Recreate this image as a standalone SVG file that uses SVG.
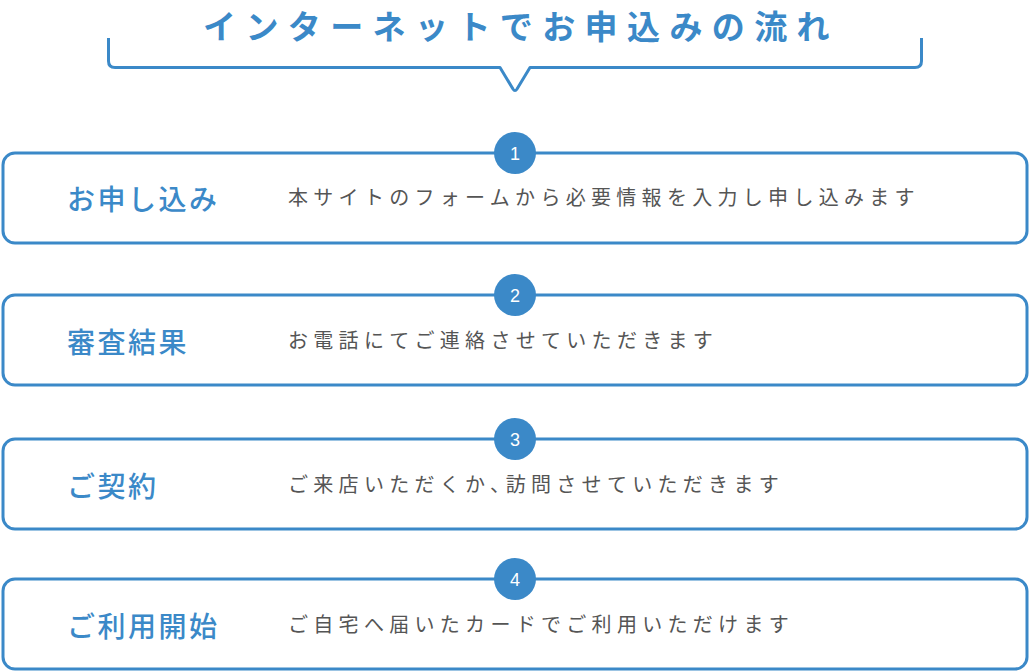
<svg xmlns="http://www.w3.org/2000/svg" width="1030" height="672" viewBox="0 0 1030 672">
<style>
.box{fill:#fff;stroke:#3b89c8;stroke-width:3}
.num{fill:#3b89c8}
.numt{fill:#fff;font-family:"Liberation Sans",Arial,sans-serif;font-size:18px;text-anchor:middle}
.lbl{fill:#3b89c8;font-family:"Noto Sans CJK JP",sans-serif;font-size:28px;font-weight:500;letter-spacing:2.5px}
.dsc{fill:#555;font-family:"Noto Sans CJK JP",sans-serif;font-size:20px;letter-spacing:5.3px}
.ttl{fill:#3b89c8;font-family:"Noto Sans CJK JP",sans-serif;font-size:33px;font-weight:700;letter-spacing:9.4px;text-anchor:middle}
</style>
<g id="title">
<text class="ttl" x="521" y="38.5">インターネットでお申込みの流れ</text>
<path d="M108.5 38 V61 Q108.5 67.5 115 67.5 H500 L513 89 Q515 92 517 89 L530 67.5 H915 Q921.5 67.5 921.5 61 V38" fill="none" stroke="#3b89c8" stroke-width="3" stroke-linejoin="round"/>
</g>
<g id="step1">
<rect class="box" x="3" y="153" width="1024" height="90" rx="12"/>
<circle class="num" cx="515" cy="153" r="21"/>
<text class="numt" x="515" y="159.5">1</text>
<text class="lbl" x="67" y="210">お申し込み</text>
<text class="dsc" x="288" y="205">本サイトのフォームから必要情報を入力し申し込みます</text>
</g>
<g id="step2">
<rect class="box" x="3" y="295" width="1024" height="90" rx="12"/>
<circle class="num" cx="515" cy="295" r="21"/>
<text class="numt" x="515" y="301.5">2</text>
<text class="lbl" x="67" y="353">審査結果</text>
<text class="dsc" x="288" y="348">お電話にてご連絡させていただきます</text>
</g>
<g id="step3">
<rect class="box" x="3" y="439" width="1024" height="90" rx="12"/>
<circle class="num" cx="515" cy="439" r="21"/>
<text class="numt" x="515" y="445.5">3</text>
<text class="lbl" x="67" y="497">ご契約</text>
<text class="dsc" x="288" y="492">ご来店いただくか､訪問させていただきます</text>
</g>
<g id="step4">
<rect class="box" x="3" y="579" width="1024" height="90" rx="12"/>
<circle class="num" cx="515" cy="579" r="21"/>
<text class="numt" x="515" y="585.5">4</text>
<text class="lbl" x="67" y="637">ご利用開始</text>
<text class="dsc" x="288" y="632">ご自宅へ届いたカードでご利用いただけます</text>
</g>
<g id="connectors"></g>
</svg>
